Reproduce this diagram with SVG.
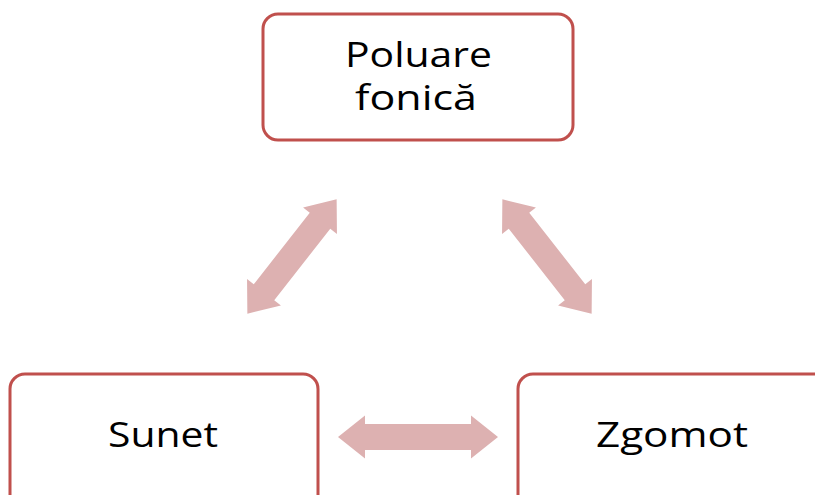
<svg xmlns="http://www.w3.org/2000/svg" width="815" height="495" viewBox="0 0 815 495">
  <style>
    .box { fill: #ffffff; stroke: #c0504d; stroke-width: 3; }
    .label { font-family: "Open Sans", "Noto Sans", sans-serif; font-size: 34px; fill: #000000; text-anchor: middle; }
    .arrow { fill: #ddb1b1; }
  </style>
  <defs>
    <!-- double-headed block arrow, 145 long, centred on the origin -->
    <path id="dbl-diag" d="M-72.5,0 L-45.5,-21.5 L-45.5,-13 L45.5,-13 L45.5,-21.5 L72.5,0 L45.5,21.5 L45.5,13 L-45.5,13 L-45.5,21.5 Z"/>
  </defs>
  <rect width="815" height="495" fill="#ffffff"/>

  <g id="connectors">
    <use href="#dbl-diag" class="arrow" transform="translate(292,256.5) rotate(-52)"/>
    <use href="#dbl-diag" class="arrow" transform="translate(547,256.5) rotate(52)"/>
    <path class="arrow" d="M338,437 L365,415.5 L365,424 L471,424 L471,415.5 L498,437 L471,458.5 L471,450 L365,450 L365,458.5 Z"/>
  </g>

  <g id="node-poluare">
    <rect class="box" x="263" y="14" width="310" height="126" rx="15"/>
    <text class="label" x="418.5" y="67" textLength="147" lengthAdjust="spacingAndGlyphs">Poluare</text>
    <text class="label" x="416" y="110" textLength="122" lengthAdjust="spacingAndGlyphs">fonică</text>
  </g>

  <g id="node-sunet">
    <rect class="box" x="10" y="374" width="308" height="140" rx="15"/>
    <text class="label" x="163" y="447" textLength="110" lengthAdjust="spacingAndGlyphs">Sunet</text>
  </g>

  <g id="node-zgomot">
    <rect class="box" x="518" y="374" width="320" height="140" rx="15"/>
    <text class="label" x="672" y="447" textLength="152" lengthAdjust="spacingAndGlyphs">Zgomot</text>
  </g>
</svg>
